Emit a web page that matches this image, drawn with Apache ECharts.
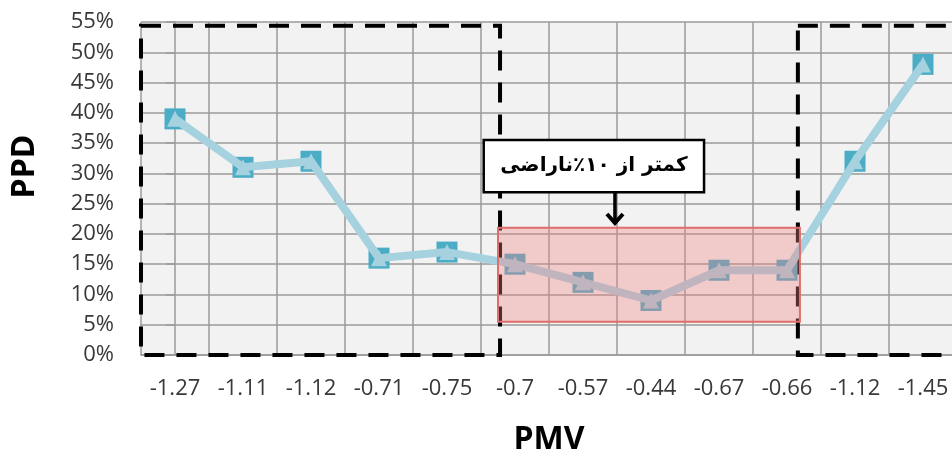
<!DOCTYPE html>
<html>
<head>
<meta charset="utf-8">
<script src="https://cdn.jsdelivr.net/npm/echarts@6/dist/echarts.min.js"></script>
<style>
  html, body { margin: 0; padding: 0; background: #fff; }
  #chart { width: 952px; height: 455px; }
</style>
</head>
<body>
<div id="chart"></div>
<script>
// PMV per case, PPD per case
const categories = ['-1.27', '-1.11', '-1.12', '-0.71', '-0.75', '-0.7', '-0.57', '-0.44', '-0.67', '-0.66', '-1.12', '-1.45'];
const ppdValues = [39, 31, 32, 16, 17, 15, 12, 9, 14, 14, 32, 48];

// y axis ticks (percent)
const yMin = 0;
const yMax = 55;
const yStep = 5;

// annotations, in data units: [xFrom, yFrom, xTo, yTo] with x as category index
const dashedBoxes = [[-0.5, 0, 4.78, 54.4], [9.16, 0, 12.5, 54.4]];
const comfortBand = [[4.75, 5.5, 9.19, 21]];
const callout = [[4.54, 26.9, 7.78, 35.5, 6.47, 21.3]];
const calloutText = 'کمتر از ۱۰٪ناراضی';

let myChart = echarts.init(document.getElementById('chart'));

function rectFrom(api) {
  let p1 = api.coord([api.value(0), api.value(3)]);
  let p2 = api.coord([api.value(2), api.value(1)]);
  return { x: p1[0], y: p1[1], width: p2[0] - p1[0], height: p2[1] - p1[1] };
}

let options = {
  animation: false,
  grid: {
    left: 141,
    top: 22,
    width: 816,
    height: 333,
    outerBoundsMode: 'none',
    containLabel: false,
    show: true,
    backgroundColor: '#F2F2F2',
    borderWidth: 0
  },
  xAxis: [
    {
      type: 'category',
      data: categories,
      boundaryGap: true,
      name: 'PMV',
      nameLocation: 'middle',
      nameGap: 69,
      nameTextStyle: { fontFamily: 'Open Sans', fontWeight: 'bold', fontSize: 32, color: '#000' },
      axisLine: { lineStyle: { color: '#9A9A9A', width: 1.5 } },
      axisTick: { show: false },
      axisLabel: { margin: 23, fontFamily: 'Open Sans', fontSize: 22, color: '#383838' },
      splitLine: { show: true, lineStyle: { color: '#9A9A9A', width: 1.5 } }
    },
    {
      type: 'value',
      show: false,
      min: -0.5,
      max: 11.5
    }
  ],
  yAxis: [
    {
      type: 'value',
      min: yMin,
      max: yMax,
      interval: yStep,
      name: 'PPD',
      nameLocation: 'middle',
      nameGap: 100,
      nameRotate: 90,
      nameTextStyle: { fontFamily: 'Open Sans', fontWeight: 'bold', fontSize: 32, color: '#000', padding: [0, 0, 0, 44] },
      axisLine: { show: true, lineStyle: { color: '#9A9A9A', width: 1.5 } },
      axisTick: { show: true, inside: false, length: 9, lineStyle: { color: '#9A9A9A', width: 1.5 } },
      axisLabel: {
        margin: 27,
        fontFamily: 'Open Sans',
        fontSize: 22,
        color: '#383838',
        formatter: function(v) { return v + '%'; }
      },
      splitLine: { show: true, lineStyle: { color: '#9A9A9A', width: 1.5 } }
    }
  ],
  series: [
    {
      type: 'custom',
      name: 'boxes',
      xAxisIndex: 1,
      z: 3,
      data: dashedBoxes,
      renderItem: function(params, api) {
        return {
          type: 'rect',
          shape: rectFrom(api),
          style: { fill: 'none', stroke: '#000', lineWidth: 4, lineDash: [20, 12] }
        };
      }
    },
    {
      type: 'line',
      name: 'markers',
      data: ppdValues,
      z: 4,
      symbol: 'rect',
      symbolSize: 21,
      itemStyle: { color: '#4BACC6' },
      lineStyle: { width: 0 }
    },
    {
      type: 'line',
      name: 'PPD',
      data: ppdValues,
      z: 5,
      symbol: 'triangle',
      symbolSize: 16,
      itemStyle: { color: '#A6D2E0' },
      lineStyle: { color: '#A6D2E0', width: 8 }
    },
    {
      type: 'custom',
      name: 'band',
      xAxisIndex: 1,
      z: 6,
      data: comfortBand,
      renderItem: function(params, api) {
        return {
          type: 'rect',
          shape: rectFrom(api),
          style: { fill: 'rgba(240, 130, 130, 0.35)', stroke: '#E06C6C', lineWidth: 2 }
        };
      }
    },
    {
      type: 'custom',
      name: 'callout',
      xAxisIndex: 1,
      z: 7,
      data: callout,
      renderItem: function(params, api) {
        let r = rectFrom(api);
        let tip = api.coord([api.value(4), api.value(5)]);
        let base = api.coord([api.value(4), api.value(1)]);
        return {
          type: 'group',
          children: [
            {
              type: 'rect',
              shape: r,
              style: { fill: '#fff', stroke: '#000', lineWidth: 2.5 }
            },
            {
              type: 'text',
              style: {
                text: calloutText,
                x: r.x + r.width / 2,
                y: r.y + r.height / 2,
                align: 'center',
                verticalAlign: 'middle',
                fontFamily: 'DejaVu Sans',
                fontWeight: 'bold',
                fontSize: 20,
                fill: '#000'
              }
            },
            {
              type: 'line',
              shape: { x1: base[0], y1: base[1], x2: tip[0], y2: tip[1] - 2 },
              style: { stroke: '#000', lineWidth: 3.5 }
            },
            {
              type: 'polyline',
              shape: { points: [[tip[0] - 8, tip[1] - 12], [tip[0], tip[1] - 3], [tip[0] + 8, tip[1] - 12]] },
              style: { stroke: '#000', lineWidth: 4, fill: 'none' }
            }
          ]
        };
      }
    }
  ]
};

myChart.setOption(options);
</script>
</body>
</html>
